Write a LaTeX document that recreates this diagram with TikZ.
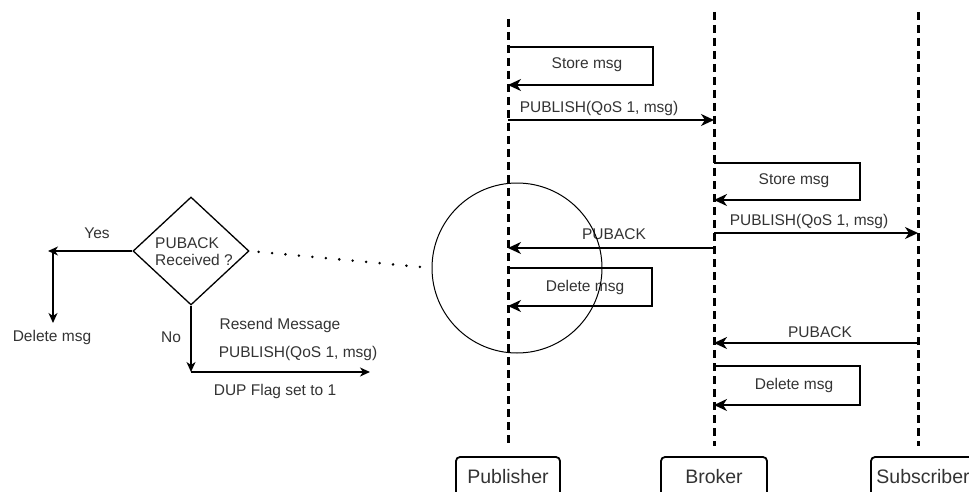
\documentclass[tikz,border=0pt]{standalone}
\usepackage{fontspec}
\setmainfont{Liberation Sans}
\usetikzlibrary{arrows.meta,shapes.geometric}
\definecolor{ink}{HTML}{333333}
\begin{document}
\begin{tikzpicture}[x=1pt,y=-1pt,
  font=\fontsize{15.5}{18}\selectfont,
  tip/.tip={Stealth[length=13pt,width=12pt,inset=4pt]},
  msg/.style={line width=2pt,-tip},
  flow/.style={line width=1.5pt,-{Stealth[length=10pt,width=9pt,inset=3pt]}},
  life/.style={line width=3pt,dash pattern=on 8pt off 5pt},
  lbl/.style={inner sep=0pt,text=ink},
  partbox/.style={draw,line width=1.8pt,rounded corners=4pt,minimum width=104pt,
    minimum height=40pt,inner sep=0pt,text=ink,font=\fontsize{19.5}{22}\selectfont}]
\useasboundingbox (0,0) rectangle (969,492);
\clip (0,0) rectangle (969,492);

% lifelines
\coordinate (pubTop) at (508,19);  \coordinate (pubBot) at (508,446);
\coordinate (brkTop) at (714,12);  \coordinate (brkBot) at (714,446);
\coordinate (subTop) at (918,12);  \coordinate (subBot) at (918,446);
\draw[life] (pubTop) -- (pubBot);
\draw[life] (brkTop) -- (brkBot);
\draw[life] (subTop) -- (subBot);

% participants
\node[partbox] (pub) at (508,477) {Publisher};
\node[partbox,minimum width=106pt] (brk) at (714,477) {Broker};
\node[partbox] (sub) at (923,477) {Subscriber};

% publisher stores the message
\coordinate (ps1) at (508,47); \coordinate (ps2) at (653,85);
\draw[msg] (ps1) -| (ps2) -- (ps2 -| pubTop);
\node[lbl] (psL) at (587,65) {Store msg};

% publish to broker
\coordinate (pp1) at (508,120);
\draw[msg] (pp1) -- (pp1 -| brkTop);
\node[lbl] (ppL) at (599,108) {PUBLISH(QoS 1, msg)};

% broker stores the message
\coordinate (bs1) at (714,163); \coordinate (bs2) at (860,200);
\draw[msg] (bs1) -| (bs2) -- (bs2 -| brkTop);
\node[lbl] (bsL) at (794,181) {Store msg};

% broker forwards to subscriber
\coordinate (bp1) at (714,233);
\draw[msg] (bp1) -- (bp1 -| subTop);
\node[lbl] (bpL) at (809,221) {PUBLISH(QoS 1, msg)};

% broker acknowledges publisher
\coordinate (ba1) at (714,248);
\draw[msg] (ba1) -- (ba1 -| pubTop);
\node[lbl] (baL) at (614,234) {PUBACK};

% publisher deletes the message
\coordinate (pd1) at (508,268); \coordinate (pd2) at (652,306);
\draw[msg] (pd1) -| (pd2) -- (pd2 -| pubTop);
\node[lbl] (pdL) at (585,287) {Delete msg};

% subscriber acknowledges broker
\coordinate (sa1) at (918,343);
\draw[msg] (sa1) -- (sa1 -| brkTop);
\node[lbl] (saL) at (820,332) {PUBACK};

% broker deletes the message
\coordinate (bd1) at (714,366); \coordinate (bd2) at (860,405);
\draw[msg] (bd1) -| (bd2) -- (bd2 -| brkTop);
\node[lbl] (bdL) at (794,385) {Delete msg};

% highlight around the acknowledgement
\node[circle,draw,line width=1pt,minimum size=170pt,inner sep=0pt] (ring) at (517,268) {};

% decision on the publisher side
\node[diamond,draw,line width=1.3pt,aspect=1.074,minimum width=116pt,
  minimum height=108pt,inner sep=0pt] (dec) at (191,251) {};
\node[lbl,align=left] (decL) at (194,252) {PUBACK\\[-1pt]Received ?};
\draw[line width=2.8pt,line cap=round,dash pattern=on 0pt off 13.5pt,shorten <=9pt]
  (dec.east) -- (ring.west);

% yes branch
\coordinate (yesEnd) at (48,251);
\coordinate (yesDrop) at (53,251);
\coordinate (delEnd) at (53,323);
\draw[flow] (dec.west) -- (yesEnd);
\draw[flow] (yesDrop) -- (delEnd);
\node[lbl] (yesL) at (97,233) {Yes};
\node[lbl] (delL) at (52,337) {Delete msg};

% no branch
\coordinate (noCorner) at (191,372);
\coordinate (resendEnd) at (370,372);
\draw[flow] (dec.south) -- (noCorner);
\draw[flow] (noCorner) -- (resendEnd);
\node[lbl] (noL) at (171,337) {No};
\node[lbl] (rsL) at (280,325) {Resend Message};
\node[lbl] (rpL) at (298,353) {PUBLISH(QoS 1, msg)};
\node[lbl] (dupL) at (275,391) {DUP Flag set to 1};
\end{tikzpicture}
\end{document}
